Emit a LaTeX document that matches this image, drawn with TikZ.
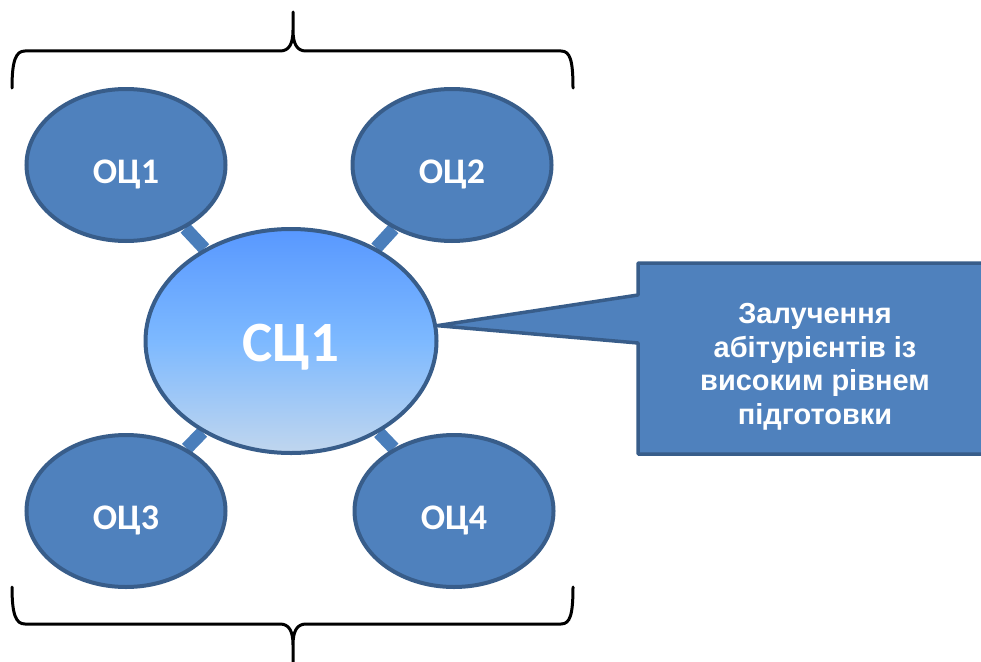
\documentclass[tikz,border=0pt]{standalone}
\usepackage{fontspec}
\setmainfont{Liberation Sans}
\newfontfamily\calfont{Carlito}
\usetikzlibrary{shapes.geometric,backgrounds}
\definecolor{ocfill}{HTML}{4F81BD}
\definecolor{ocline}{HTML}{385D8A}
\definecolor{barcol}{HTML}{4A7EBB}
\definecolor{ctop}{RGB}{88,152,255}
\definecolor{cmid}{RGB}{125,185,255}
\definecolor{cbot}{RGB}{192,214,238}
\tikzset{
  oc/.style={ellipse, draw=ocline, line width=4pt, fill=ocfill,
    minimum width=199pt, minimum height=152pt, inner sep=0pt, text=white,
    text height=37pt, text depth=0pt,
    font=\calfont\bfseries\fontsize{36}{42}\selectfont},
  center/.style={ellipse, draw=ocline, line width=4pt,
    top color=ctop, bottom color=cbot, middle color=cmid,
    minimum width=291pt, minimum height=224pt, inner sep=0pt, text=white,
    text height=41pt, text depth=0pt,
    font=\calfont\bfseries\fontsize{57}{64}\selectfont},
  bar/.style={draw=barcol, line width=13pt},
  calloutbox/.style={draw=ocline, fill=ocfill, line width=3.5pt, line join=round},
  ctext/.style={text=white, align=center,
    font=\bfseries\fontsize{29}{33.5}\selectfont},
  brace/.style={draw=black, line width=3pt, line cap=round, line join=round}
}
\begin{document}
\begin{tikzpicture}[x=1pt,y=-1pt]
\useasboundingbox (0,0) rectangle (981,661);
\clip (0,0) rectangle (981,661);

% braces
\draw[brace] (12,88) .. controls (12,60) and (16,51) .. (25,51) -- (280,51)
  .. controls (289,51) and (293,44) .. (293,30) -- (293,12)
  (293,30) .. controls (293,44) and (297,51) .. (306,51) -- (561,51)
  .. controls (570,51) and (573,60) .. (573,88);
\draw[brace] (12,587) .. controls (12,615) and (16,624) .. (25,624) -- (280,624)
  .. controls (289,624) and (293,631) .. (293,645) -- (293,665)
  (293,645) .. controls (293,631) and (297,624) .. (306,624) -- (561,624)
  .. controls (570,624) and (573,615) .. (573,587);

% nodes
\node[oc] (o1) at (126,165) {ОЦ1};
\node[oc] (o2) at (452,165) {ОЦ2};
\node[oc] (o3) at (126,511) {ОЦ3};
\node[oc] (o4) at (454,511) {ОЦ4};
\node[center] (c1) at (291,341) {СЦ1};

% bars
\begin{scope}[on background layer]
\draw[bar] (o1) -- (c1);
\draw[bar] (o2) -- (c1);
\draw[bar] (o3) -- (c1);
\draw[bar] (o4) -- (c1);
\end{scope}

% callout
\coordinate (tip) at (c1.6);
\draw[calloutbox] (638,263) -- (995,263) -- (995,454) -- (638,454) -- (638,343)
  -- (tip) -- (638,295) -- cycle;
\node[ctext] (ct) at (815,367) {Залучення\\абітурієнтів із\\високим рівнем\\підготовки};
\end{tikzpicture}
\end{document}
